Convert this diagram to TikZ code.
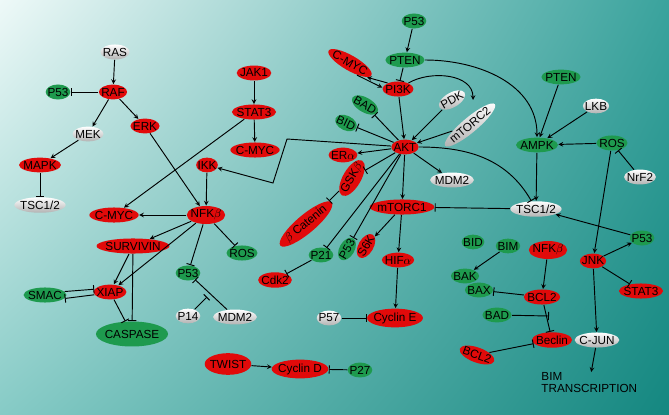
\documentclass[tikz,border=0pt]{standalone}
\usepackage{fontspec}
\setmainfont{Liberation Sans}
\usetikzlibrary{shapes.geometric,shadings}
\definecolor{bgTL}{HTML}{EEF9F8}
\definecolor{bgTR}{HTML}{3AA39D}
\definecolor{bgBL}{HTML}{86CBC6}
\definecolor{bgBR}{HTML}{148780}
\definecolor{gnred}{HTML}{E10A0A}
\definecolor{gngreen}{HTML}{1E9A4E}

\begin{document}
\begin{tikzpicture}[x=0.3mm,y=-0.3mm,>=stealth,thick,
  gene node/.style={ellipse,inner xsep=-1.5pt,inner ysep=1pt,draw=none,font=\fontsize{10}{11}\selectfont},
  red node/.style={gene node,fill=gnred},
  green node/.style={gene node,fill=gngreen},
  white node/.style={gene node,top color=white,bottom color=black!30}]
  \shade[upper left=bgTL,upper right=bgTR,lower left=bgBL,lower right=bgBR] (0,0) rectangle (669,415);
  \useasboundingbox (0,0) rectangle (669,415);

  % left side
  \node[white node] (ras) at (115,52) {RAS};
  \node[red node] (raf) at (113,92) {RAF};
  \node[green node] (p53a) at (58,92) {P53};
  \node[white node] (mek) at (88,134) {MEK};
  \node[red node] (erk) at (145,126) {ERK};
  \node[red node] (mapk) at (40,165) {MAPK};
  \node[white node] (tsca) at (40,205) {TSC1/2};
  \node[red node] (jak) at (254,73) {JAK1};
  \node[red node] (stata) at (254,112) {STAT3};
  \node[red node] (cmyca) at (255,150) {C-MYC};
  \node[red node] (ikk) at (207,165) {IKK};
  \node[red node] (cmycb) at (114,215) {C-MYC};
  \node[red node] (nfkba) at (206,215) {NFK$\beta$};
  \node[red node] (surv) at (133,246) {SURVIVIN};
  \node[green node] (rosa) at (242,253) {ROS};
  \node[green node] (p53b) at (188,273) {P53};
  \node[red node] (xiap) at (110,292) {XIAP};
  \node[green node] (smac) at (45,295) {SMAC};
  \node[white node] (p14) at (188,316) {P14};
  \node[white node] (mdma) at (235,317) {MDM2};
  \node[green node,inner ysep=4pt] (casp) at (132,334) {CASPASE};
  \node[red node,inner ysep=3pt] (twist) at (228,364) {TWIST};
  \node[red node] (cycd) at (300,369) {Cyclin D};
  \node[green node] (p27) at (360,370) {P27};
  \coordinate (mdmmid) at (207,297);

  % centre
  \node[green node] (p53c) at (414,21) {P53};
  \node[green node] (ptena) at (405,60) {PTEN};
  \node[red node,rotate=-30] (cmycc) at (350,63) {C-MYC};
  \node[red node] (pik) at (398,89) {PI3K};
  \node[green node,rotate=-30] (bada) at (365,105) {BAD};
  \node[green node,rotate=-25] (bida) at (346,123) {BID};
  \node[white node,rotate=30] (pdk) at (452,100) {PDK};
  \node[white node,rotate=40] (mtorb) at (470,125) {mTORC2};
  \node[red node] (akt) at (405,147) {AKT};
  \node[red node] (era) at (343,155) {ER$\alpha$};
  \node[red node,rotate=60] (gsk) at (352,178) {GSK$\beta$};
  \node[white node] (mdmb) at (452,180) {MDM2};
  \node[red node,rotate=40] (cat) at (306,224) {$\beta$ Catenin};
  \node[green node,rotate=60] (p53d) at (347,249) {P53};
  \node[green node] (p21) at (321,255) {P21};
  \node[red node] (cdk) at (275,280) {Cdk2};
  \node[red node] (mtora) at (402,207) {mTORC1};
  \node[red node,rotate=60] (sk) at (366,246) {S6K};
  \node[red node] (hif) at (398,260) {HIF$\alpha$};
  \node[white node] (p57) at (329,318) {P57};
  \node[red node] (cyce) at (395,318) {Cyclin E};
  \coordinate (pikend) at (473,100);
  \coordinate (bend1) at (287,139);
  \coordinate (bend2) at (273,183);

  % right side
  \node[green node] (ptenb) at (561,77) {PTEN};
  \node[white node] (lkb) at (596,106) {LKB};
  \node[green node] (ampk) at (537,145) {AMPK};
  \node[green node] (rosb) at (612,143) {ROS};
  \node[white node] (nrf) at (640,177) {NrF2};
  \node[white node] (tscb) at (536,209) {TSC1/2};
  \node[green node] (p53e) at (642,238) {P53};
  \node[red node] (jnk) at (593,261) {JNK};
  \node[red node] (statb) at (641,291) {STAT3};
  \node[green node] (bidb) at (473,242) {BID};
  \node[green node] (bim) at (508,246) {BIM};
  \node[red node] (nfkbb) at (548,250) {NFK$\beta$};
  \node[green node] (bak) at (465,276) {BAK};
  \node[green node] (bax) at (479,290) {BAX};
  \node[red node] (bcla) at (542,297) {BCL2};
  \node[green node] (badb) at (497,315) {BAD};
  \node[red node] (beclin) at (552,340) {Beclin};
  \node[white node] (cjun) at (597,340) {C-JUN};
  \node[red node,rotate=-20] (bclb) at (477,355) {BCL2};
  \node[align=left,anchor=north west,inner sep=0pt,font=\fontsize{10}{10.5}\selectfont] (bimtxt) at (541,372) {BIM\\TRANSCRIPTION};
  \coordinate (bclmid) at (549,316);

  \path[->]
    (ras) edge (raf)
    (raf) edge[-|] (p53a)
    (raf) edge (mek)
    (raf) edge (erk)
    (mek) edge (mapk)
    (mapk) edge[-|] (tsca)
    (erk) edge (nfkba)
    (jak) edge (stata)
    (stata) edge (cmyca)
    (stata) edge (cmycb)
    (ikk) edge (nfkba)
    (nfkba) edge (cmycb)
    (nfkba) edge (surv)
    (nfkba) edge (xiap)
    (nfkba) edge[-|] (p53b)
    (nfkba) edge[-|] (rosa)
    (surv) edge (xiap)
    (surv) edge[-|] (casp)
    (xiap) edge[-|] (casp)
    (smac.10) edge[-|] (xiap.170)
    (xiap.190) edge[-|] (smac.350)
    (mdma) edge[-|] (p53b)
    (p14) edge[-|] (mdmmid)
    (twist) edge (cycd)
    (p27) edge[-|] (cycd)
    (p53c) edge (ptena)
    (ptena) edge[-|] (pik)
    (cmycc.330) edge (pik.175)
    (pik.150) edge (cmycc.350)
    (pik) edge (akt)
    (pik) edge[out=30,in=90] (pikend)
    (ptena) edge[out=0,in=90] (ampk)
    (pdk) edge (akt)
    (mtorb) edge (akt)
    (akt) edge[-|] (bada)
    (akt) edge[-|] (bida)
    (akt) edge (era)
    (akt) edge[-|] (gsk)
    (akt) edge (mdmb)
    (akt) edge (mtora)
    (akt) edge[-|] (p53d)
    (akt) edge[-|] (p21)
    (akt) edge[-|,out=0,in=120] (tscb)
    (gsk) edge[-|] (cat)
    (p21) edge[-|] (cdk)
    (mtora) edge (sk)
    (mtora) edge (hif)
    (hif) edge (cyce)
    (p57) edge[-|] (cyce)
    (tscb) edge[-|] (mtora)
    (ptenb) edge (ampk)
    (lkb) edge (ampk)
    (rosb) edge (ampk)
    (nrf) edge[-|] (rosb)
    (ampk) edge (tscb)
    (rosb) edge (jnk)
    (p53e) edge (tscb)
    (jnk) edge (p53e)
    (jnk) edge[-|] (statb)
    (jnk) edge (cjun)
    (cjun) edge (bimtxt)
    (bim) edge (bak)
    (nfkbb) edge (bcla)
    (bcla) edge[-|] (bax)
    (badb) edge[-|] (bclmid)
    (bcla) edge[-|] (beclin)
    (bclb) edge[-|] (beclin)
    ;
  \draw[->] (akt) -- (bend1) -- (bend2) -- (ikk);
\end{tikzpicture}
\end{document}
